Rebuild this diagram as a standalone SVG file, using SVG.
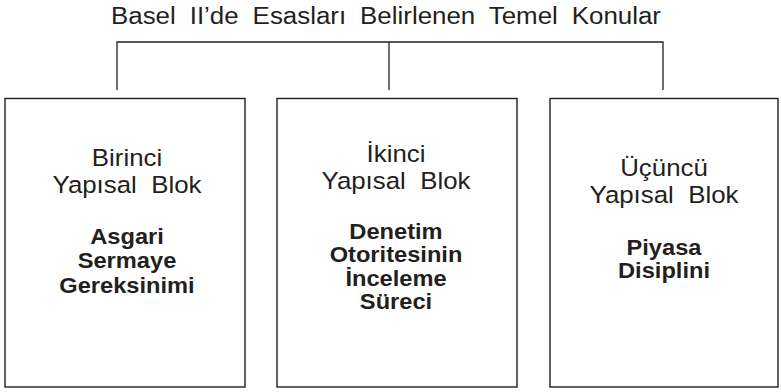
<svg xmlns="http://www.w3.org/2000/svg" width="781" height="392" viewBox="0 0 781 392">
<style>
.box{fill:#fff;stroke:#231f20;stroke-width:1.4}
.con{fill:none;stroke:#231f20;stroke-width:1.3}
.t{font-family:"Liberation Sans",Arial,sans-serif;fill:#231f20;text-anchor:middle}
.r{font-size:23.5px}
.b{font-size:21.5px;font-weight:bold}
.title{font-size:23px}
</style>
<rect width="781" height="392" fill="#fff"/>
<g id="title">
<text class="t title" x="386" y="24" textLength="550" lengthAdjust="spacingAndGlyphs" word-spacing="6">Basel II’de Esasları Belirlenen Temel Konular</text>
</g>
<g id="connectors">
<path class="con" d="M117,90 V42 H663 V90 M389,42 V90"/>
</g>
<g id="node1">
<rect class="box" x="5" y="98.5" width="240" height="288.5"/>
<g transform="translate(127,0) scale(1.1,1)">
<text class="t r" x="0" y="166">Birinci</text>
<text class="t r" x="0" y="193" xml:space="preserve">Yapısal  Blok</text>
<text class="t b" x="0" y="244">Asgari</text>
<text class="t b" x="0" y="268">Sermaye</text>
<text class="t b" x="0" y="293">Gereksinimi</text>
</g>
</g>
<g id="node2">
<rect class="box" x="277" y="98.5" width="240" height="288.5"/>
<g transform="translate(396,0) scale(1.1,1)">
<text class="t r" x="0" y="162">İkinci</text>
<text class="t r" x="0" y="189" xml:space="preserve">Yapısal  Blok</text>
<text class="t b" x="0" y="239">Denetim</text>
<text class="t b" x="0" y="262">Otoritesinin</text>
<text class="t b" x="0" y="286">İnceleme</text>
<text class="t b" x="0" y="309">Süreci</text>
</g>
</g>
<g id="node3">
<rect class="box" x="550" y="98.5" width="228" height="288.5"/>
<g transform="translate(664,0) scale(1.1,1)">
<text class="t r" x="0" y="176">Üçüncü</text>
<text class="t r" x="0" y="203" xml:space="preserve">Yapısal  Blok</text>
<text class="t b" x="0" y="255">Piyasa</text>
<text class="t b" x="0" y="278">Disiplini</text>
</g>
</g>
</svg>
